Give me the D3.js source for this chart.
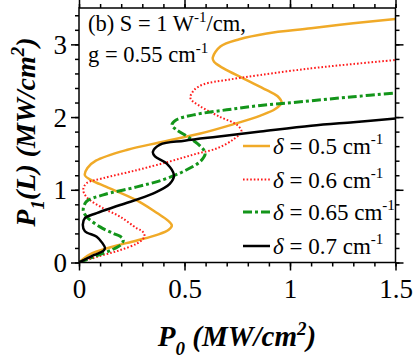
<!DOCTYPE html>
<html>
<head>
<meta charset="utf-8">
<script src="https://cdn.jsdelivr.net/npm/d3@7"></script>
<style>
  body { margin: 0; background: #fff; }
  svg { display: block; }
</style>
</head>
<body>
<svg width="415" height="362"></svg>
<script>
// curves, [P0, P1(L)] in order along each curve
const delta05 = [[0,0],[0.05,0.11],[0.15,0.21],[0.27,0.30],[0.37,0.38],[0.425,0.45],[0.44,0.51],[0.42,0.58],[0.37,0.68],[0.27,0.86],[0.13,1.04],[0.06,1.13],[0.028,1.2],[0.04,1.3],[0.08,1.4],[0.23,1.55],[0.38,1.65],[0.57,1.77],[0.73,1.9],[0.86,2.02],[0.93,2.11],[0.96,2.2],[0.94,2.29],[0.89,2.37],[0.78,2.53],[0.685,2.67],[0.64,2.76],[0.634,2.82],[0.67,2.97],[0.76,3.07],[0.89,3.15],[1.1,3.22],[1.3,3.29],[1.5,3.35]];
const delta06 = [[0,0],[0.1,0.09],[0.195,0.17],[0.274,0.26],[0.305,0.33],[0.31,0.38],[0.3,0.43],[0.274,0.47],[0.195,0.63],[0.115,0.745],[0.036,0.9],[0.02,1.0],[0.036,1.09],[0.115,1.16],[0.274,1.27],[0.43,1.39],[0.55,1.49],[0.654,1.57],[0.73,1.69],[0.77,1.8],[0.75,1.89],[0.67,2.0],[0.574,2.15],[0.528,2.26],[0.545,2.37],[0.59,2.45],[0.7,2.51],[0.86,2.58],[1.1,2.67],[1.3,2.73],[1.5,2.785]];
const delta065 = [[0,0],[0.08,0.09],[0.16,0.18],[0.2,0.25],[0.21,0.31],[0.195,0.36],[0.163,0.40],[0.1,0.49],[0.036,0.63],[0.02,0.72],[0.036,0.84],[0.115,0.93],[0.274,1.04],[0.4,1.14],[0.5,1.26],[0.575,1.39],[0.598,1.5],[0.575,1.6],[0.52,1.72],[0.46,1.83],[0.44,1.89],[0.46,1.96],[0.543,2.03],[0.7,2.1],[0.86,2.16],[1.05,2.21],[1.3,2.28],[1.5,2.33]];
const delta07 = [[0,0],[0.07,0.1],[0.115,0.16],[0.123,0.2],[0.11,0.27],[0.084,0.355],[0.028,0.43],[0.018,0.52],[0.028,0.61],[0.084,0.68],[0.195,0.79],[0.353,0.95],[0.43,1.08],[0.45,1.2],[0.416,1.36],[0.36,1.46],[0.35,1.52],[0.384,1.62],[0.5,1.675],[0.654,1.73],[0.86,1.8],[1.1,1.88],[1.3,1.93],[1.5,1.98]];

const legendLabels = ["0.5", "0.6", "0.65", "0.7"];
const xTicks = [0, 0.5, 1, 1.5];
const yTicks = [0, 1, 2, 3];

const series = [
  { pts: delta05, label: legendLabels[0], color: "#f0aa28", width: 2.5, dash: null },
  { pts: delta06, label: legendLabels[1], color: "#ff1a1a", width: 2, dash: "1.6,2" },
  { pts: delta065, label: legendLabels[2], color: "#13951a", width: 3, dash: "9,3,3,3" },
  { pts: delta07, label: legendLabels[3], color: "#000000", width: 2.5, dash: null }
];

const serif = "'Liberation Serif'";
const svg = d3.select("svg").style("font-family", serif);
const mLeft = 79, mRight = 395.5, mTop = 8, mBottom = 262.5;

const x = d3.scaleLinear().domain([0, 1.5]).range([mLeft, mRight]);
const y = d3.scaleLinear().domain([0, 3.5]).range([mBottom, mTop]);

//曲线
const line = d3.line()
  .x(d => x(d[0]))
  .y(d => y(d[1]))
  .curve(d3.curveCatmullRom.alpha(0.5));

const plot = svg.append("g");
plot.append("clipPath").attr("id", "clip")
  .append("rect").attr("x", mLeft).attr("y", mTop).attr("width", mRight - mLeft).attr("height", mBottom - mTop);

series.forEach(s => {
  plot.append("path")
    .attr("clip-path", "url(#clip)")
    .attr("d", line(s.pts))
    .style("fill", "none")
    .style("stroke", s.color)
    .style("stroke-width", s.width)
    .style("stroke-dasharray", s.dash);
});

//坐标轴
function styleAxis(g) {
  g.attr("font-family", null).attr("font-size", null);
  g.select(".domain").remove();
  g.selectAll("line").style("stroke", "#000").style("stroke-width", 1.5);
  g.selectAll("text").style("font-family", serif).style("fill", "#000");
}
const xMinor = d3.range(0, 1.5001, 0.1);
const yMinor = d3.range(0, 3.5001, 0.2);

svg.append("g").attr("transform", `translate(0,${mBottom})`)
  .call(d3.axisBottom(x).tickValues(xMinor).tickSize(4).tickFormat("")).call(styleAxis);
svg.append("g").attr("transform", `translate(0,${mTop})`)
  .call(d3.axisTop(x).tickValues(xMinor).tickSize(4).tickFormat("")).call(styleAxis);
svg.append("g").attr("transform", `translate(${mLeft},0)`)
  .call(d3.axisLeft(y).tickValues(yMinor).tickSize(4).tickFormat("")).call(styleAxis);
svg.append("g").attr("transform", `translate(${mRight},0)`)
  .call(d3.axisRight(y).tickValues(yMinor).tickSize(4).tickFormat("")).call(styleAxis);

const xb = svg.append("g").attr("transform", `translate(0,${mBottom})`)
  .call(d3.axisBottom(x).tickValues(xTicks).tickSize(8).tickFormat(d3.format("~g"))).call(styleAxis);
xb.selectAll("text").attr("y", 16).attr("dy", "0.71em").style("font-size", "27px");
svg.append("g").attr("transform", `translate(0,${mTop})`)
  .call(d3.axisTop(x).tickValues(xTicks).tickSize(8).tickFormat("")).call(styleAxis);
const yl = svg.append("g").attr("transform", `translate(${mLeft},0)`)
  .call(d3.axisLeft(y).tickValues(yTicks).tickSize(8).tickFormat(d3.format("~g"))).call(styleAxis);
yl.selectAll("text").attr("x", -12).attr("dy", "0.34em").style("font-size", "27px");
svg.append("g").attr("transform", `translate(${mRight},0)`)
  .call(d3.axisRight(y).tickValues(yTicks).tickSize(8).tickFormat("")).call(styleAxis);

svg.append("rect")
  .attr("x", mLeft).attr("y", mTop).attr("width", mRight - mLeft).attr("height", mBottom - mTop)
  .style("fill", "none").style("stroke", "#000").style("stroke-width", 1.5);

//注释
const note = svg.append("g").style("font-size", "22.5px").style("font-family", serif);
const n1 = note.append("text").attr("x", 88).attr("y", 31);
n1.append("tspan").text("(b) S = 1 W");
n1.append("tspan").attr("dy", -9).style("font-size", "15px").text("-1");
n1.append("tspan").attr("dy", 9).text("/cm,");
const n2 = note.append("text").attr("x", 88).attr("y", 62);
n2.append("tspan").text("g = 0.55 cm");
n2.append("tspan").attr("dy", -9).style("font-size", "15px").text("-1");

//图例
const legendY = [146, 179.5, 212, 246];
series.forEach((s, i) => {
  const g = svg.append("g").attr("transform", `translate(0,${legendY[i]})`);
  g.append("line").attr("x1", 243).attr("x2", 270).attr("y1", 0).attr("y2", 0)
    .style("stroke", s.color).style("stroke-width", s.width).style("stroke-dasharray", s.dash);
  const t = g.append("text").attr("x", 273).attr("y", 8)
    .style("font-size", "23px").style("font-family", serif);
  t.append("tspan").style("font-style", "italic").text("δ");
  t.append("tspan").text(` = ${s.label} cm`);
  t.append("tspan").attr("dy", -10).style("font-size", "15px").text("-1");
});

//轴标题
const xt = svg.append("text")
  .attr("x", 237).attr("y", 346)
  .attr("text-anchor", "middle")
  .style("font-family", serif)
  .style("font-size", "29px").style("font-weight", "bold").style("font-style", "italic");
xt.append("tspan").text("P");
xt.append("tspan").attr("dy", 9).style("font-size", "19px").text("0");
xt.append("tspan").attr("dy", -9).text(" (MW/cm");
xt.append("tspan").attr("dy", -11).style("font-size", "19px").text("2");
xt.append("tspan").attr("dy", 11).text(")");

const yt = svg.append("text")
  .attr("transform", "translate(35,132) rotate(-90)")
  .attr("text-anchor", "middle")
  .style("font-family", serif)
  .style("font-size", "28px").style("font-weight", "bold").style("font-style", "italic");
yt.append("tspan").text("P");
yt.append("tspan").attr("dy", 9).style("font-size", "19px").text("1");
yt.append("tspan").attr("dy", -9).text("(L) (MW/cm");
yt.append("tspan").attr("dy", -11).style("font-size", "19px").text("2");
yt.append("tspan").attr("dy", 11).text(")");
</script>
</body>
</html>
